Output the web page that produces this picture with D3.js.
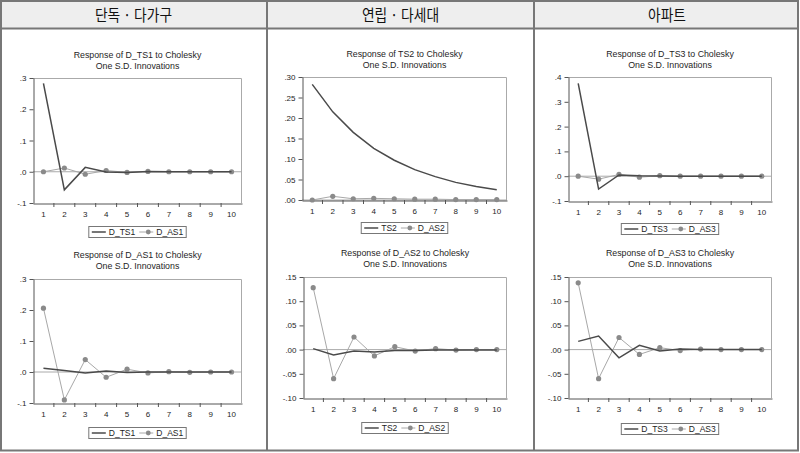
<!DOCTYPE html>
<html><head><meta charset="utf-8">
<script src="https://cdn.jsdelivr.net/npm/d3@7"></script>
<style>
html,body{margin:0;padding:0;background:#fff;}
svg{display:block;}
</style></head>
<body>
<svg id="c" width="800" height="453"></svg>
<script>
// ---------- data ----------
const headers = ["단독 · 다가구", "연립 · 다세대", "아파트"];
const periods = [1,2,3,4,5,6,7,8,9,10];

// column 1 : 단독·다가구
const r1TopTS = [0.283,-0.058,0.014,-0.001,-0.002,0.0005,0,0,0,0];
const r1TopAS = [0.000,0.012,-0.008,0.004,-0.002,0.001,0,0,0,0];
const r1BotTS = [0.012,0.005,-0.003,0.003,-0.002,0.000,0.000,0,0,0];
const r1BotAS = [0.206,-0.090,0.040,-0.017,0.009,-0.003,0.001,-0.001,0,0];
// column 2 : 연립·다세대
const r2TopTS = [0.282,0.215,0.165,0.126,0.097,0.074,0.057,0.043,0.033,0.025];
const r2TopAS = [0.000,0.009,0.003,0.004,0.003,0.002,0.002,0.001,0.001,0.001];
const r2BotTS = [0.002,-0.011,-0.003,-0.005,-0.002,-0.002,-0.001,-0.001,-0.001,-0.001];
const r2BotAS = [0.128,-0.060,0.026,-0.013,0.006,-0.003,0.002,-0.001,0,0];
// column 3 : 아파트
const r3TopTS = [0.374,-0.052,0.005,0.002,0.001,0,0,0,0,0];
const r3TopAS = [0.000,-0.012,0.007,-0.004,0.002,0,0,0,0,0];
const r3BotTS = [0.017,0.028,-0.017,0.009,-0.003,0.001,0,0,0,0];
const r3BotAS = [0.138,-0.060,0.025,-0.010,0.004,-0.002,0.001,0,0,0];

const ticksA = [-0.1,0,0.1,0.2,0.3];
const labelsA = ["-.1",".0",".1",".2",".3"];
const ticksB = [0,0.05,0.10,0.15,0.20,0.25,0.30];
const labelsB = [".00",".05",".10",".15",".20",".25",".30"];
const ticksC = [-0.10,-0.05,0,0.05,0.10,0.15];
const labelsC = ["-.10","-.05",".00",".05",".10",".15"];
const ticksD = [-0.1,0,0.1,0.2,0.3,0.4];
const labelsD = ["-.1",".0",".1",".2",".3",".4"];

const titles = [
  ["Response of D_TS1 to Cholesky","One S.D. Innovations"],
  ["Response of D_AS1 to Cholesky","One S.D. Innovations"],
  ["Response of TS2 to Cholesky","One S.D. Innovations"],
  ["Response of D_AS2 to Cholesky","One S.D. Innovations"],
  ["Response of D_TS3 to Cholesky","One S.D. Innovations"],
  ["Response of D_AS3 to Cholesky","One S.D. Innovations"]
];
const seriesNames = [["D_TS1","D_AS1"],["D_TS1","D_AS1"],["TS2","D_AS2"],["TS2","D_AS2"],["D_TS3","D_AS3"],["D_TS3","D_AS3"]];

// ---------- layout ----------
const charts = [
  {ts:r1TopTS, as:r1TopAS, ticks:ticksA, labels:labelsA, box:[33,78,242,203], t:titles[0], n:seriesNames[0], ty:58, ly:232},
  {ts:r1BotTS, as:r1BotAS, ticks:ticksA, labels:labelsA, box:[33,279,242,403], t:titles[1], n:seriesNames[1], ty:258, ly:433},
  {ts:r2TopTS, as:r2TopAS, ticks:ticksB, labels:labelsB, box:[302,77,507,200], t:titles[2], n:seriesNames[2], ty:57, ly:228},
  {ts:r2BotTS, as:r2BotAS, ticks:ticksC, labels:labelsC, box:[303,277,507,398], t:titles[3], n:seriesNames[3], ty:256, ly:428},
  {ts:r3TopTS, as:r3TopAS, ticks:ticksD, labels:labelsD, box:[568,77,772,201], t:titles[4], n:seriesNames[4], ty:57, ly:229},
  {ts:r3BotTS, as:r3BotAS, ticks:ticksC, labels:labelsC, box:[568,277,772,398], t:titles[5], n:seriesNames[5], ty:256, ly:429}
];

const svg = d3.select("#c");
const FONT = "Liberation Sans, Arial, sans-serif";
const TXT = "#1e1e1e";

// table frame
svg.append("rect").attr("x",1).attr("y",1).attr("width",797).attr("height",27).attr("fill","#eeeeee");
const colX = [0,267,534,800];
headers.forEach((h,i)=>{
  const cxh = (colX[i]+colX[i+1])/2;
  svg.append("text").attr("transform",`translate(${cxh},21) scale(0.86,1)`)
    .attr("text-anchor","middle").attr("font-family","Noto Sans CJK KR, sans-serif")
    .attr("font-weight",400).attr("font-size",16).attr("fill","#111").text(h);
});
svg.append("line").attr("x1",1).attr("x2",799).attr("y1",28.5).attr("y2",28.5).attr("stroke","#777").attr("stroke-width",2);
[267,534].forEach(x=>svg.append("line").attr("x1",x).attr("x2",x).attr("y1",1).attr("y2",451).attr("stroke","#777").attr("stroke-width",2));
svg.append("rect").attr("x",1).attr("y",1).attr("width",797).attr("height",449.5).attr("fill","none").attr("stroke","#777").attr("stroke-width",2);

charts.forEach(c=>{
  const [x0,y0,x1,y1] = c.box;
  const g = svg.append("g");
  const x = d3.scaleBand().domain(periods).range([x0,x1]);
  const y = d3.scaleLinear().domain([c.ticks[0], c.ticks[c.ticks.length-1]]).range([y1,y0]);
  const cx = d => x(d)+x.bandwidth()/2;

  // title
  c.t.forEach((s,i)=>g.append("text").attr("x",(x0+x1)/2).attr("y",c.ty+i*11)
    .attr("text-anchor","middle").attr("font-family",FONT).attr("font-size",8.8).attr("fill",TXT).text(s));

  // frame top/right
  g.append("path").attr("d",`M${x0},${y0+0.5}H${x1-0.5}V${y1}`).attr("fill","none").attr("stroke","#aaa").attr("stroke-width",1);
  // zero line
  g.append("line").attr("x1",x0).attr("x2",x1).attr("y1",y(0)).attr("y2",y(0)).attr("stroke","#aaa").attr("stroke-width",1);

  // y axis
  const ya = d3.axisLeft(y).tickValues(c.ticks).tickFormat((d,i)=>c.labels[i]).tickSize(4).tickSizeOuter(0);
  const yg = g.append("g").attr("transform",`translate(${x0+0.5},0)`).call(ya);
  // x axis: ticks at category boundaries
  const xa = d3.axisBottom(x).tickSize(0).tickSizeOuter(0);
  const xg = g.append("g").attr("transform",`translate(0,${y1+0.5})`).call(xa);
  [yg,xg].forEach(a=>{
    a.select(".domain").attr("stroke","#555");
    a.selectAll(".tick line").attr("stroke","#555");
    a.selectAll("text").attr("font-family",FONT).attr("font-size",8).attr("fill",TXT);
  });
  xg.selectAll("text").attr("dy","1.3em");
  g.append("g").selectAll("line").data(periods.slice(1)).join("line")
    .attr("x1",d=>x(d)).attr("x2",d=>x(d)).attr("y1",y1).attr("y2",y1+4).attr("stroke","#555");

  // series
  const line = d3.line().x((d,i)=>cx(periods[i])).y(d=>y(d));
  g.append("path").datum(c.as).attr("d",line).attr("fill","none").attr("stroke","#a8a8a8").attr("stroke-width",1);
  g.append("g").selectAll("circle").data(c.as).join("circle")
    .attr("cx",(d,i)=>cx(periods[i])).attr("cy",d=>y(d)).attr("r",2.6).attr("fill","#8a8a8a");
  g.append("path").datum(c.ts).attr("d",line).attr("fill","none").attr("stroke","#4a4a4a").attr("stroke-width",1.5);

  // legend
  const lg = g.append("g");
  const t1 = lg.append("text").attr("font-family",FONT).attr("font-size",8.5).attr("fill",TXT).attr("y",c.ly+3).text(c.n[0]);
  const t2 = lg.append("text").attr("font-family",FONT).attr("font-size",8.5).attr("fill",TXT).attr("y",c.ly+3).text(c.n[1]);
  const w1 = t1.node().getComputedTextLength(), w2 = t2.node().getComputedTextLength();
  const sw = 14, pad = 3, gap = 3, mid = 4;
  const total = pad + sw + gap + w1 + mid + sw + gap + w2 + pad;
  let lx = (x0+x1)/2 - total/2;
  lg.insert("rect","text").attr("x",lx).attr("y",c.ly-5.5).attr("width",total).attr("height",11).attr("fill","#fff").attr("stroke","#777").attr("stroke-width",1);
  let p = lx + pad;
  lg.append("line").attr("x1",p).attr("x2",p+sw).attr("y1",c.ly).attr("y2",c.ly).attr("stroke","#4a4a4a").attr("stroke-width",1.5);
  p += sw + gap; t1.attr("x",p); p += w1 + mid;
  lg.append("line").attr("x1",p).attr("x2",p+sw).attr("y1",c.ly).attr("y2",c.ly).attr("stroke","#a8a8a8").attr("stroke-width",1);
  lg.append("circle").attr("cx",p+sw/2+2).attr("cy",c.ly).attr("r",2.4).attr("fill","#8a8a8a");
  p += sw + gap; t2.attr("x",p);
});
</script>
</body></html>
